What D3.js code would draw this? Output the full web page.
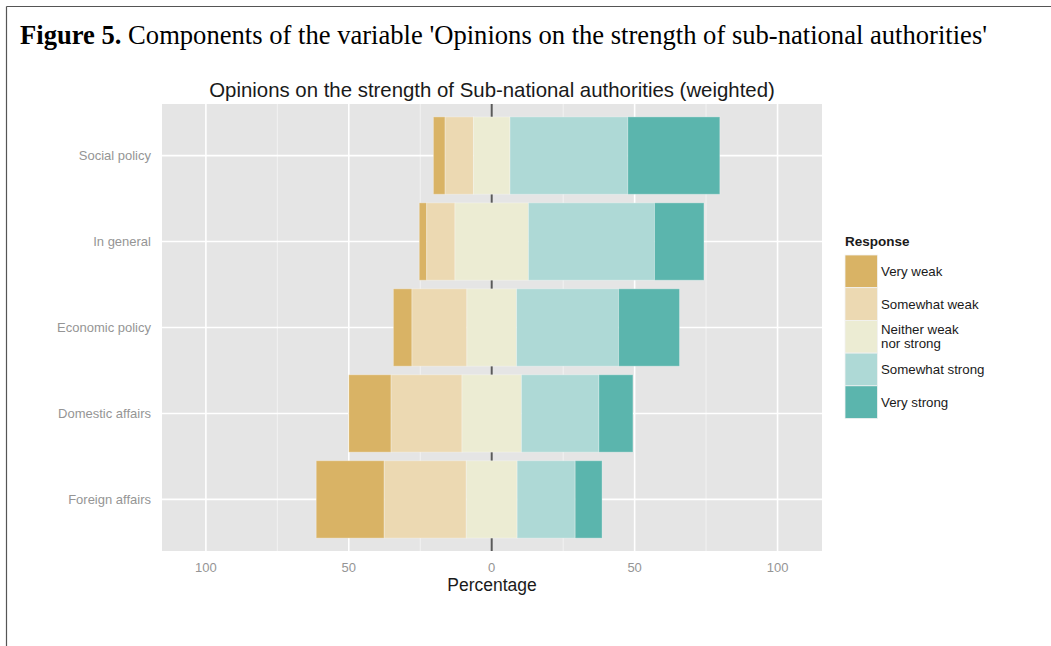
<!DOCTYPE html>
<html>
<head>
<meta charset="utf-8">
<script src="https://cdn.jsdelivr.net/npm/d3@7"></script>
<style>
  html, body { margin: 0; padding: 0; background: #fff; }
  svg { display: block; }
</style>
</head>
<body>
<svg id="chart" width="1051" height="646"></svg>
<script>
const categories = ["Social policy", "In general", "Economic policy", "Domestic affairs", "Foreign affairs"];
const responses = ["Very weak", "Somewhat weak", "Neither weak nor strong", "Somewhat strong", "Very strong"];
const veryWeak       = [4.1, 2.6, 6.5, 14.8, 23.8];
const somewhatWeak   = [9.9, 9.9, 19.2, 24.8, 28.7];
const neitherNor     = [12.8, 25.7, 17.4, 20.8, 17.8];
const somewhatStrong = [41.2, 44.1, 35.7, 27.1, 20.3];
const veryStrong     = [32.2, 17.3, 21.3, 11.9, 9.4];
const xTicks = [-100, -50, 0, 50, 100];
const xMinorTicks = [-75, -25, 25, 75];
const colors = ["#D9B365", "#ECD9B2", "#ECECD3", "#AED9D6", "#5BB5AD"];

const series = [veryWeak, somewhatWeak, neitherNor, somewhatStrong, veryStrong];
const sans = "Liberation Sans, Arial, sans-serif";

const svg = d3.select("#chart");

// page frame
svg.append("line").attr("x1", 6.5).attr("x2", 1051).attr("y1", 6.5).attr("y2", 6.5)
  .attr("stroke", "#555").attr("stroke-width", 1.2);
svg.append("line").attr("x1", 6.5).attr("x2", 6.5).attr("y1", 6.5).attr("y2", 646)
  .attr("stroke", "#555").attr("stroke-width", 1.2);

// caption
const cap = svg.append("text").attr("x", 20).attr("y", 44)
  .attr("font-family", "Liberation Serif, Times New Roman, serif").attr("font-size", 26.6).attr("fill", "#000");
cap.append("tspan").attr("font-weight", "bold").text("Figure 5.");
cap.append("tspan").text(" Components of the variable 'Opinions on the strength of sub-national authorities'");

const panel = {left: 162, right: 822, top: 104, bottom: 551};

const x = d3.scaleLinear().domain([-115.35, 115.55]).range([panel.left, panel.right]);
const y = d3.scaleBand().domain(categories).range([panel.top, panel.bottom])
  .paddingInner(0.1).paddingOuter(0.15);

// panel background
svg.append("rect").attr("x", panel.left).attr("y", panel.top)
  .attr("width", panel.right - panel.left).attr("height", panel.bottom - panel.top)
  .attr("fill", "#E5E5E5");

const grid = svg.append("g");
grid.selectAll(".minor").data(xMinorTicks).join("line")
  .attr("x1", d => x(d)).attr("x2", d => x(d))
  .attr("y1", panel.top).attr("y2", panel.bottom)
  .attr("stroke", "#F2F2F2").attr("stroke-width", 1);
grid.selectAll(".majorx").data(xTicks).join("line")
  .attr("x1", d => x(d)).attr("x2", d => x(d))
  .attr("y1", panel.top).attr("y2", panel.bottom)
  .attr("stroke", "#FFFFFF").attr("stroke-width", 1.6);
grid.selectAll(".majory").data(categories).join("line")
  .attr("x1", panel.left).attr("x2", panel.right)
  .attr("y1", d => y(d) + y.bandwidth() / 2).attr("y2", d => y(d) + y.bandwidth() / 2)
  .attr("stroke", "#FFFFFF").attr("stroke-width", 1.6);

// zero line
svg.append("line").attr("x1", x(0)).attr("x2", x(0))
  .attr("y1", panel.top).attr("y2", panel.bottom)
  .attr("stroke", "#5a5a5a").attr("stroke-width", 2);

// bars (diverging, neutral centered on zero)
const segs = [];
categories.forEach((c, i) => {
  let start = -(veryWeak[i] + somewhatWeak[i] + neitherNor[i] / 2);
  series.forEach((s, k) => {
    segs.push({cat: c, k: k, x0: start, x1: start + s[i]});
    start += s[i];
  });
});
svg.append("g").selectAll("rect").data(segs).join("rect")
  .attr("x", d => x(d.x0)).attr("width", d => x(d.x1) - x(d.x0))
  .attr("y", d => y(d.cat)).attr("height", y.bandwidth())
  .attr("fill", d => colors[d.k])
  .attr("stroke", "rgba(255,255,255,0.3)").attr("stroke-width", 1);

// title
svg.append("text").attr("x", (panel.left + panel.right) / 2).attr("y", 97)
  .attr("text-anchor", "middle").attr("font-family", sans)
  .attr("font-size", 20.4).attr("fill", "#1a1a1a")
  .text("Opinions on the strength of Sub-national authorities (weighted)");

// x axis labels
svg.append("g").selectAll("text").data(xTicks).join("text")
  .attr("x", d => x(d)).attr("y", 572).attr("text-anchor", "middle")
  .attr("font-family", sans).attr("font-size", 13)
  .attr("fill", "#959595").text(d => Math.abs(d));
svg.append("text").attr("x", (panel.left + panel.right) / 2).attr("y", 591)
  .attr("text-anchor", "middle").attr("font-family", sans)
  .attr("font-size", 17.5).attr("fill", "#1a1a1a").text("Percentage");

// y axis labels
svg.append("g").selectAll("text").data(categories).join("text")
  .attr("x", 151).attr("y", d => y(d) + y.bandwidth() / 2 + 4.5).attr("text-anchor", "end")
  .attr("font-family", sans).attr("font-size", 13)
  .attr("fill", "#959595").text(d => d);

// legend
const lg = svg.append("g").attr("transform", "translate(845,0)");
lg.append("text").attr("x", 0).attr("y", 246).attr("font-family", sans)
  .attr("font-size", 13.5).attr("font-weight", "bold").attr("fill", "#1a1a1a").text("Response");
const keyH = 32.7;
responses.forEach((r, k) => {
  const ky = 255 + k * keyH;
  lg.append("rect").attr("x", 0).attr("y", ky).attr("width", 32.5).attr("height", keyH)
    .attr("fill", colors[k]).attr("stroke", "#F2F2F2").attr("stroke-width", 0.8);
  const t = lg.append("text").attr("x", 36).attr("font-family", sans)
    .attr("font-size", 13.3).attr("fill", "#1a1a1a");
  if (r === "Neither weak nor strong") {
    t.attr("y", ky + keyH / 2 - 3);
    t.append("tspan").attr("x", 36).text("Neither weak");
    t.append("tspan").attr("x", 36).attr("dy", 14).text("nor strong");
  } else {
    t.attr("y", ky + keyH / 2 + 4.5).text(r);
  }
});
</script>
</body>
</html>
